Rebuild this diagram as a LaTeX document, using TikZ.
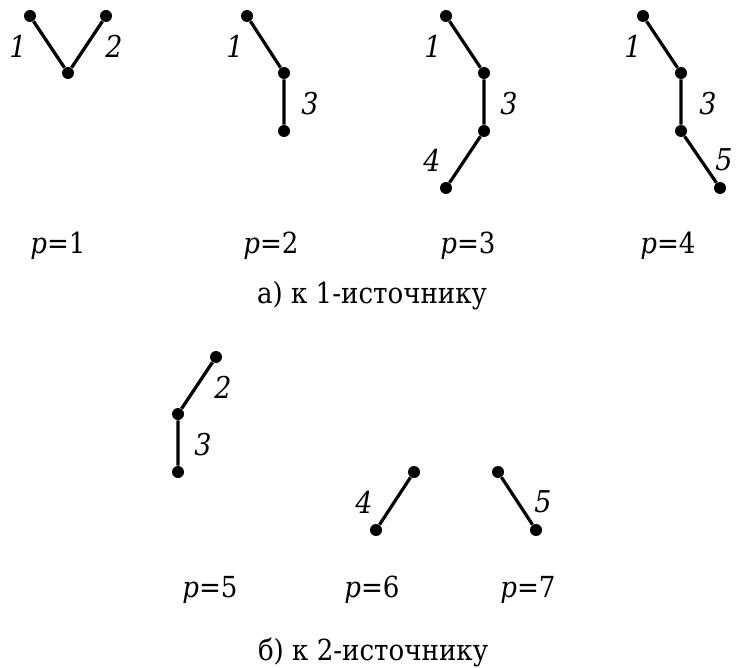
\documentclass[tikz,border=0pt]{standalone}
\usepackage{fontspec}
\setmainfont{DejaVu Serif Condensed}
\usetikzlibrary{positioning}
\tikzset{
  vertex/.style={circle, fill=black, inner sep=0pt, minimum size=6pt},
  edge/.style={line width=1.6pt, draw=black},
  num/.style={font=\fontsize{15}{18}\selectfont\itshape, inner sep=0pt},
  plabel/.style={font=\fontsize{14.5}{18}\selectfont, inner sep=0pt},
  caption/.style={font=\fontsize{14.5}{18}\selectfont, inner sep=0pt}
}
\newcommand{\pval}[1]{\textit{p}=#1}
\begin{document}
\begin{tikzpicture}[x=0.5pt,y=-0.5pt]
  \useasboundingbox (0,0) rectangle (738,668);
  % p=1
  \node[vertex] (a1) at (30,16) {};
  \node[vertex] (a2) at (106,16) {};
  \node[vertex] (a0) at (68,73) {};
  \draw[edge] (a1)--(a0)--(a2);
  \node[num] (na1) at (18,46) {1};
  \node[num] (na2) at (114,46) {2};
  % p=2
  \node[vertex] (b1) at (247,16) {};
  \node[vertex] (b2) at (284,73) {};
  \node[vertex] (b3) at (284,131) {};
  \draw[edge] (b1)--(b2)--(b3);
  \node[num] (nb1) at (235,46) {1};
  \node[num] (nb3) at (310,104) {3};
  % p=3
  \node[vertex] (c1) at (446,16) {};
  \node[vertex] (c2) at (484,73) {};
  \node[vertex] (c3) at (484,131) {};
  \node[vertex] (c4) at (446,188) {};
  \draw[edge] (c1)--(c2)--(c3)--(c4);
  \node[num] (nc1) at (433,46) {1};
  \node[num] (nc3) at (509,104) {3};
  \node[num] (nc4) at (432,160) {4};
  % p=4
  \node[vertex] (d1) at (643,16) {};
  \node[vertex] (d2) at (681,73) {};
  \node[vertex] (d3) at (681,131) {};
  \node[vertex] (d4) at (720,188) {};
  \draw[edge] (d1)--(d2)--(d3)--(d4);
  \node[num] (nd1) at (633,46) {1};
  \node[num] (nd3) at (708,104) {3};
  \node[num] (nd5) at (724,160) {5};
  % labels a)
  \node[plabel] (p1) at (58,246) {\pval{1}};
  \node[plabel] (p2) at (271,246) {\pval{2}};
  \node[plabel] (p3) at (468,246) {\pval{3}};
  \node[plabel] (p4) at (668,246) {\pval{4}};
  \node[caption] (capa) at (372,296) {а) к 1-источнику};
  % p=5
  \node[vertex] (e2) at (216,357) {};
  \node[vertex] (e1) at (178,414) {};
  \node[vertex] (e3) at (178,472) {};
  \draw[edge] (e2)--(e1)--(e3);
  \node[num] (ne2) at (223,387) {2};
  \node[num] (ne3) at (203,445) {3};
  % p=6
  \node[vertex] (f1) at (414,472) {};
  \node[vertex] (f2) at (376,530) {};
  \draw[edge] (f1)--(f2);
  \node[num] (nf4) at (364,502) {4};
  % p=7
  \node[vertex] (g1) at (498,472) {};
  \node[vertex] (g2) at (536,530) {};
  \draw[edge] (g1)--(g2);
  \node[num] (ng5) at (543,502) {5};
  % labels b)
  \node[plabel] (p5) at (210,590) {\pval{5}};
  \node[plabel] (p6) at (372,590) {\pval{6}};
  \node[plabel] (p7) at (528,590) {\pval{7}};
  \node[caption] (capb) at (373,652) {б) к 2-источнику};
\end{tikzpicture}
\end{document}
